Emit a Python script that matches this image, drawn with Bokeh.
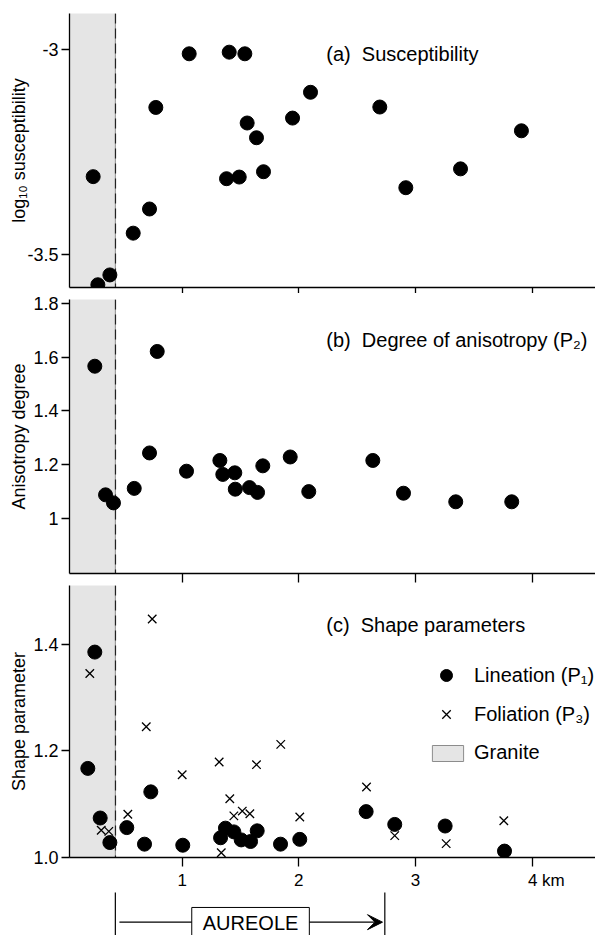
from bokeh.plotting import figure
from bokeh.layouts import column
from bokeh.models import Range1d, FixedTicker, Label, Legend, LegendItem, Arrow, VeeHead
from bokeh.embed import file_html
from bokeh.resources import INLINE

FONT = "Liberation Sans"

# ---------------- data (distance in km) ----------------
sus_km = [0.237, 0.277, 0.380, 0.580, 0.720, 0.774, 1.060, 1.380, 1.403, 1.489,
          1.537, 1.557, 1.637, 1.697, 1.946, 2.100, 2.694, 2.917, 3.386, 3.908]
sus_log10 = [-3.311, -3.575, -3.551, -3.449, -3.390, -3.142, -3.011, -3.316, -3.007, -3.312,
             -3.011, -3.180, -3.216, -3.299, -3.168, -3.105, -3.141, -3.338, -3.292, -3.199]

ani_km = [0.251, 0.343, 0.411, 0.589, 0.720, 0.786, 1.037, 1.323, 1.348, 1.451,
          1.455, 1.577, 1.646, 1.691, 1.926, 2.085, 2.634, 2.897, 3.345, 3.825]
ani_p2 = [1.566, 1.087, 1.057, 1.111, 1.243, 1.621, 1.175, 1.215, 1.163, 1.169,
          1.108, 1.114, 1.096, 1.195, 1.228, 1.099, 1.215, 1.093, 1.061, 1.061]

lin_km = [0.191, 0.251, 0.297, 0.380, 0.525, 0.677, 0.731, 1.005, 1.329, 1.371,
          1.443, 1.506, 1.586, 1.643, 1.843, 2.008, 2.577, 2.822, 3.254, 3.763]
lin_p1 = [1.167, 1.385, 1.074, 1.028, 1.056, 1.025, 1.123, 1.023, 1.037, 1.055,
          1.048, 1.033, 1.030, 1.050, 1.025, 1.034, 1.086, 1.062, 1.059, 1.012]

fol_km = [0.208, 0.306, 0.371, 0.534, 0.692, 0.743, 1.000, 1.317, 1.335, 1.408,
          1.443, 1.515, 1.580, 1.637, 1.845, 2.008, 2.580, 2.822, 3.263, 3.757]
fol_p3 = [1.345, 1.051, 1.049, 1.081, 1.245, 1.447, 1.155, 1.179, 1.009, 1.110,
          1.078, 1.087, 1.082, 1.174, 1.212, 1.076, 1.132, 1.041, 1.026, 1.069]

granite_edge_km = 0.427
aureole_end_km = 2.737

x_ticks = [1, 2, 3, 4]
x_tick_labels = ["1", "2", "3", "\u00a0" * 6 + "4 km"]

a_ticks = [-3.5, -3.0]
a_tick_labels = ["-3.5", "-3"]
b_ticks = [1.0, 1.2, 1.4, 1.6, 1.8]
b_tick_labels = ["1", "1.2", "1.4", "1.6", "1.8"]
c_ticks = [1.0, 1.2, 1.4]
c_tick_labels = ["1.0", "1.2", "1.4"]

X_START, X_END = 0.034, 4.543
x_range = Range1d(X_START, X_END)

GREY = "#e5e5e5"


def panel(height, btop, bbottom, y0, y1, yticks, ylabels, ylabel, ylabel_standoff,
          show_x_labels, xtick_out):
    p = figure(width=595, height=height, x_range=x_range, y_range=Range1d(y0, y1),
               output_backend="svg", toolbar_location=None,
               min_border_left=69, min_border_right=0,
               min_border_top=btop, min_border_bottom=bbottom)
    p.xgrid.visible = False
    p.ygrid.visible = False
    p.outline_line_color = None
    p.background_fill_color = "white"
    p.border_fill_color = "white"
    span = y1 - y0
    # granite shading
    g = p.quad(left=[X_START - 1], right=[granite_edge_km], bottom=[y0 - span], top=[y1 + span],
               fill_color=GREY, line_color="#8c8c8c", line_width=1)
    p.vspan(x=[granite_edge_km], line_color="#222222", line_width=1.2, line_dash="10 5")

    xa = p.xaxis[0]
    ya = p.yaxis[0]
    for ax in (xa, ya):
        ax.axis_line_color = "black"
        ax.axis_line_width = 1.3
        ax.major_tick_line_color = "black"
        ax.major_tick_line_width = 1.3
        ax.major_tick_in = 0
        ax.minor_tick_line_color = None
        ax.major_label_text_font = FONT
        ax.major_label_text_color = "black"
    xa.ticker = FixedTicker(ticks=x_ticks)
    xa.major_tick_out = xtick_out
    if show_x_labels:
        xa.major_label_overrides = {t: s for t, s in zip(x_ticks, x_tick_labels)}
        xa.major_label_text_font_size = "17px"
        xa.major_label_standoff = 4
    else:
        xa.major_label_overrides = {t: "" for t in x_ticks}
        xa.major_label_text_font_size = "0px"
        xa.major_label_standoff = 0
    ya.ticker = FixedTicker(ticks=yticks)
    ya.major_label_overrides = {t: s for t, s in zip(yticks, ylabels)}
    ya.major_tick_out = 8
    ya.major_label_standoff = 3
    ya.major_label_text_font_size = "18px"
    ya.axis_label = ylabel
    ya.axis_label_text_font = FONT
    ya.axis_label_text_font_size = "18px"
    ya.axis_label_text_font_style = "normal"
    ya.axis_label_text_color = "black"
    ya.axis_label_standoff = ylabel_standoff
    return p, g


def title(p, y0, y1, text):
    yy = y1 - 40.0 / 274.0 * (y1 - y0)
    p.add_layout(Label(x=2.235, y=yy, text=text, text_font=FONT, text_font_size="20px",
                       text_align="left", text_baseline="middle", text_color="black"))


# ---- panel (a)
A0, A1 = -3.5817, -2.9126
pa, _ = panel(293, 13, 6, A0, A1, a_ticks, a_tick_labels, "log\u2081\u2080 susceptibility", -5,
              False, 6)
pa.scatter(sus_km, sus_log10, size=14, marker="circle", fill_color="black", line_color="black")
title(pa, A0, A1, "(a)\u00a0 Susceptibility")

# ---- panel (b)
B0, B1 = 0.794, 1.8145
pb, _ = panel(290, 6, 10, B0, B1, b_ticks, b_tick_labels, "Anisotropy degree", 1, False, 9)
pb.scatter(ani_km, ani_p2, size=14, marker="circle", fill_color="black", line_color="black")
title(pb, B0, B1, "(b)\u00a0 Degree of anisotropy (P\u2082)")

# ---- panel (c)
C0, C1 = 1.0, 1.5098
pc, granite = panel(309, 2, 33, C0, C1, c_ticks, c_tick_labels, "Shape parameter", 1, True, 9)
lin = pc.scatter(lin_km, lin_p1, size=14, marker="circle", fill_color="black", line_color="black")
fol = pc.scatter(fol_km, fol_p3, size=12, marker="x", line_color="black", line_width=1.3)
title(pc, C0, C1, "(c)\u00a0 Shape parameters")

leg1 = Legend(items=[LegendItem(label="Lineation (P\u2081)", renderers=[lin]),
                     LegendItem(label="Foliation (P\u2083)", renderers=[fol])],
              location=(362, 128), glyph_width=30, glyph_height=30, label_height=30,
              spacing=9, label_standoff=13, padding=0, margin=0,
              border_line_color=None, background_fill_alpha=0,
              label_text_font=FONT, label_text_font_size="20px", label_text_color="black")
leg2 = Legend(items=[LegendItem(label="Granite", renderers=[granite])],
              location=(359, 93), glyph_width=39, glyph_height=20, label_height=20,
              spacing=0, label_standoff=7, padding=0, margin=0,
              border_line_color=None, background_fill_alpha=0,
              label_text_font=FONT, label_text_font_size="20px", label_text_color="black")
pc.add_layout(leg1)
pc.add_layout(leg2)

# ---- aureole strip
pd = figure(width=595, height=43, x_range=x_range, y_range=Range1d(0, 1),
            output_backend="svg", toolbar_location=None,
            min_border_left=69, min_border_right=0, min_border_top=0, min_border_bottom=0,
            x_axis_type=None, y_axis_type=None)
pd.xgrid.visible = False
pd.ygrid.visible = False
pd.outline_line_color = None
pd.segment(x0=[granite_edge_km, aureole_end_km], y0=[0, 0],
           x1=[granite_edge_km, aureole_end_km], y1=[1.2, 1.2], line_color="black", line_width=1.2)
pd.add_layout(Arrow(end=VeeHead(size=15, fill_color="black", line_color="black"),
                    x_start=granite_edge_km + 0.035, y_start=0.31,
                    x_end=aureole_end_km - 0.02, y_end=0.31, line_color="black", line_width=1.2))
pd.add_layout(Label(x=1.586, y=0.28, text="AUREOLE", text_font=FONT, text_font_size="20px",
                    text_align="center", text_baseline="middle", text_color="black",
                    background_fill_color="white", border_line_color="black", border_line_width=1,
                    padding=dict(left=11, right=11, top=5, bottom=5)))

layout = column(pa, pb, pc, pd, spacing=0)
open("out.html", "w").write(file_html(layout, INLINE))
